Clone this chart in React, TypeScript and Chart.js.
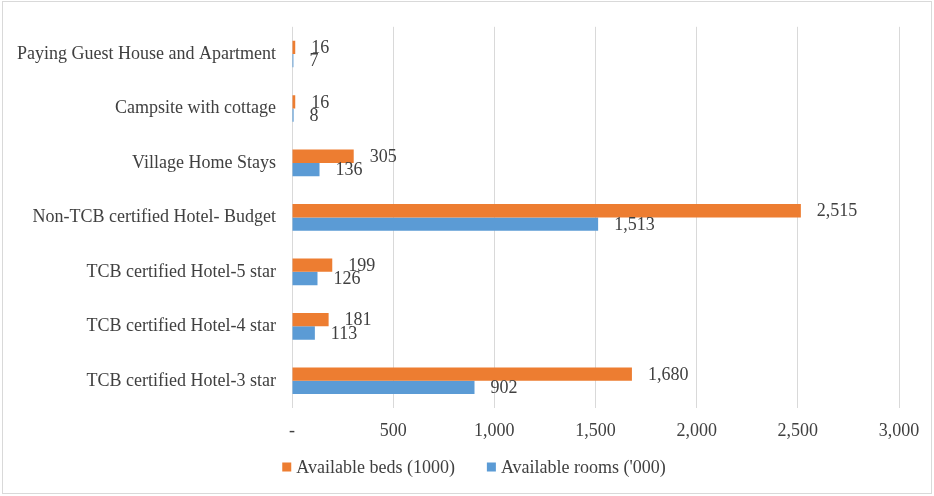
import React, { useEffect, useRef } from "react";
import { Chart, registerables } from "chart.js";

Chart.register(...registerables);

const categories = [
  "Paying Guest House and Apartment",
  "Campsite with cottage",
  "Village Home Stays",
  "Non-TCB certified Hotel- Budget",
  "TCB certified Hotel-5 star",
  "TCB certified Hotel-4 star",
  "TCB certified Hotel-3 star",
];
const availableBeds = [16, 16, 305, 2515, 199, 181, 1680];
const availableRooms = [7, 8, 136, 1513, 126, 113, 902];
const xTicks = [0, 500, 1000, 1500, 2000, 2500, 3000];

const FONT = "'Liberation Serif', 'Times New Roman', serif";
const TEXT = "#404040";
const FS = 18;

const fmt = (v: number) => (v === 0 ? "-" : v.toLocaleString("en-US"));

const valueLabels = {
  id: "valueLabels",
  afterDatasetsDraw(chart: any) {
    const ctx = chart.ctx;
    ctx.save();
    ctx.font = `${FS}px ${FONT}`;
    ctx.fillStyle = TEXT;
    ctx.textAlign = "left";
    ctx.textBaseline = "middle";
    chart.data.datasets.forEach((ds: any, di: number) => {
      const meta = chart.getDatasetMeta(di);
      meta.data.forEach((el: any, i: number) => {
        ctx.fillText(fmt(ds.data[i]), el.x + 16, el.y + 1);
      });
    });
    ctx.restore();
  },
};

const customLegend = {
  id: "customLegend",
  afterDraw(chart: any) {
    const ctx = chart.ctx;
    ctx.save();
    ctx.font = `${FS}px ${FONT}`;
    ctx.textBaseline = "middle";
    ctx.textAlign = "left";
    const box = 9;
    const gapText = 5;
    const gapItem = 32;
    const items = chart.data.datasets.map((ds: any) => ({
      label: ds.label,
      color: ds.backgroundColor,
      w: ctx.measureText(ds.label).width,
    }));
    const total =
      items.reduce((s: number, it: any) => s + box + gapText + it.w, 0) +
      gapItem * (items.length - 1);
    const cy = chart.chartArea.bottom + 59;
    let x = 474 - total / 2;
    items.forEach((it: any) => {
      ctx.fillStyle = it.color;
      ctx.fillRect(x, cy - box / 2, box, box);
      x += box + gapText;
      ctx.fillStyle = TEXT;
      ctx.fillText(it.label, x, cy + 1);
      x += it.w + gapItem;
    });
    ctx.restore();
  },
};

export default function App() {
  const ref = useRef<HTMLCanvasElement>(null);
  useEffect(() => {
    document.body.style.margin = "0";
    const chart = new Chart(ref.current!, {
      type: "bar",
      data: {
        labels: categories,
        datasets: [
          {
            label: "Available beds (1000)",
            data: availableBeds,
            backgroundColor: "#ED7D31",
            categoryPercentage: 0.49,
            barPercentage: 1,
          },
          {
            label: "Available rooms ('000)",
            data: availableRooms,
            backgroundColor: "#5B9BD5",
            categoryPercentage: 0.49,
            barPercentage: 1,
          },
        ],
      },
      options: {
        indexAxis: "y",
        animation: false,
        responsive: false,
        maintainAspectRatio: false,
        layout: { padding: { top: 19, right: 35, bottom: 52, left: 0 } },
        scales: {
          x: {
            min: 0,
            max: 3000,
            afterBuildTicks: (axis: any) => {
              axis.ticks = xTicks.map((v) => ({ value: v }));
            },
            grid: { color: "#D9D9D9", drawTicks: false, lineWidth: 1 },
            border: { display: false },
            ticks: {
              callback: (v: any) => fmt(Number(v)),
              color: TEXT,
              font: { family: FONT, size: FS },
              padding: 12,
            },
            afterFit: (axis: any) => {
              axis.height = 36;
            },
          },
          y: {
            grid: { display: false, drawTicks: false },
            border: { display: false },
            ticks: {
              color: TEXT,
              font: { family: FONT, size: FS },
              padding: 16,
            },
            afterFit: (axis: any) => {
              axis.width = 292;
            },
          },
        },
        plugins: {
          legend: { display: false },
          tooltip: { enabled: false },
        },
      },
      plugins: [valueLabels, customLegend],
    } as any);
    return () => chart.destroy();
  }, []);
  return (
    <div style={{ position: "relative", width: 934, height: 496 }}>
      <canvas ref={ref} width={934} height={496} style={{ display: "block" }} />
      <div
        style={{
          position: "absolute",
          left: 2,
          top: 1,
          width: 930,
          height: 493,
          border: "1px solid #D9D9D9",
          boxSizing: "border-box",
          pointerEvents: "none",
        }}
      />
    </div>
  );
}
